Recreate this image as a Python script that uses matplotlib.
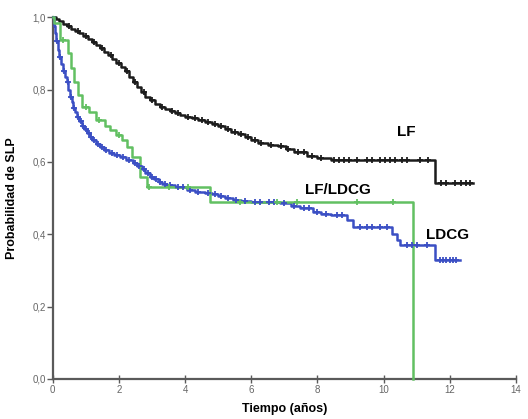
import numpy as np
import matplotlib
matplotlib.use("Agg")
import matplotlib.pyplot as plt

plt.rcParams["font.family"] = ["Liberation Sans", "DejaVu Sans"]

# Kaplan-Meier curves: event times, survival after each step, last follow-up
lf_t = [0, 0.1, 0.2, 0.3, 0.42, 0.55, 0.68, 0.8, 0.92, 1.05, 1.18, 1.3, 1.42, 1.55, 1.68,
        1.8, 1.92, 2.05, 2.18, 2.3, 2.42, 2.55, 2.68, 2.8, 2.95, 3.1, 3.25, 3.4, 3.55, 3.7,
        3.85, 4.0, 4.2, 4.4, 4.6, 4.8, 5.0, 5.2, 5.4, 5.6, 5.8, 6.0, 6.2, 6.5, 6.8, 7.05,
        7.3, 7.7, 8.0, 8.4, 11.55]
lf_p = [1.0, 0.995, 0.99, 0.982, 0.975, 0.968, 0.962, 0.955, 0.948, 0.94, 0.932, 0.924,
        0.915, 0.905, 0.895, 0.884, 0.873, 0.862, 0.85, 0.836, 0.822, 0.806, 0.792, 0.78,
        0.77, 0.76, 0.752, 0.745, 0.74, 0.735, 0.73, 0.725, 0.72, 0.715, 0.71, 0.704,
        0.698, 0.692, 0.684, 0.676, 0.668, 0.66, 0.652, 0.648, 0.643, 0.636, 0.627, 0.616,
        0.61, 0.605, 0.541]
lf_end = 12.7
lf_cens = [0.5, 0.75, 1.0, 1.25, 1.5, 1.75, 2.0, 2.25, 2.5, 2.75, 3.0, 3.3, 3.6, 3.8,
           4.1, 4.3, 4.5, 4.7, 4.9, 5.1, 5.3, 5.5, 5.7, 5.9, 6.1, 6.3, 6.6, 6.9, 7.1,
           7.4, 7.6, 7.85, 8.1, 8.5, 8.65, 8.8, 8.95, 9.2, 9.5, 9.65, 9.9, 10.05, 10.2,
           10.35, 10.55, 10.7, 11.1, 11.35, 11.75, 11.9, 12.15, 12.35, 12.5, 12.6]

mix_t = [0, 0.05, 0.21, 0.45, 0.55, 0.65, 0.75, 0.88, 1.1, 1.32, 1.57, 1.72, 1.92, 2.1,
         2.25, 2.39, 2.63, 2.84, 4.75, 10.88]
mix_p = [1.0, 0.983, 0.937, 0.90, 0.86, 0.82, 0.785, 0.752, 0.738, 0.715, 0.70, 0.688,
         0.675, 0.66, 0.64, 0.613, 0.558, 0.53, 0.49, 0.0]
mix_end = 10.88
mix_cens = [0.3, 1.0, 1.4, 2.0, 2.9, 3.5, 4.1, 5.65, 6.77, 7.38, 9.19, 10.28]

ldcg_t = [0, 0.03, 0.06, 0.1, 0.15, 0.2, 0.25, 0.3, 0.36, 0.42, 0.47, 0.51, 0.57, 0.62,
          0.68, 0.73, 0.8, 0.88, 0.95, 1.03, 1.12, 1.2, 1.3, 1.42, 1.55, 1.7, 1.85, 2.03,
          2.2, 2.42, 2.55, 2.7, 2.8, 2.93, 3.05, 3.2, 3.3, 3.45, 3.7, 4.05, 4.3, 4.6, 4.8,
          5.0, 5.2, 5.44, 5.7, 6.0, 6.4, 6.86, 7.2, 7.47, 7.87, 8.1, 8.4, 8.89, 9.07,
          10.25, 10.4, 10.5, 11.55]
ldcg_p = [1.0, 0.975, 0.955, 0.935, 0.91, 0.89, 0.87, 0.85, 0.835, 0.82, 0.80, 0.78,
          0.765, 0.75, 0.737, 0.725, 0.712, 0.70, 0.69, 0.68, 0.67, 0.66, 0.65, 0.64,
          0.632, 0.625, 0.619, 0.613, 0.605, 0.596, 0.588, 0.58, 0.57, 0.558, 0.552,
          0.545, 0.54, 0.536, 0.53, 0.522, 0.518, 0.515, 0.51, 0.505, 0.5, 0.494, 0.492,
          0.49, 0.488, 0.486, 0.479, 0.472, 0.461, 0.457, 0.453, 0.439, 0.42, 0.40,
          0.385, 0.37, 0.329]
ldcg_end = 12.3
ldcg_cens = [0.13, 0.22, 0.33, 0.45, 0.54, 0.65, 0.76, 0.84, 0.92, 1.0, 1.08, 1.16,
             1.25, 1.36, 1.48, 1.62, 1.78, 1.95, 2.12, 2.3, 2.48, 2.62, 2.75, 2.87, 3.0,
             3.12, 3.25, 3.38, 3.55, 3.8, 3.95, 4.15, 4.4, 4.7, 4.9, 5.1, 5.3, 5.55, 5.8,
             6.1, 6.25, 6.55, 6.7, 7.0, 7.3, 7.6, 7.75, 8.0, 8.25, 8.6, 8.75, 9.3, 9.5,
             9.65, 9.9, 10.1, 10.7, 10.85, 11.0, 11.3, 11.7, 11.8, 11.9, 12.0, 12.1, 12.2]

y_ticks = [0.0, 0.2, 0.4, 0.6, 0.8, 1.0]
x_ticks = [0, 2, 4, 6, 8, 10, 12, 14]


def km(ax, t, p, end, cens, color):
    xs = list(t) + [end]
    ys = list(p) + [p[-1]]
    ax.step(xs, ys, where="post", color=color, lw=1.8, clip_on=False, zorder=3)
    idx = np.searchsorted(t, cens, side="right") - 1
    cy = np.array(p)[idx]
    ax.plot(cens, cy, ls="none", marker="+", ms=4, mew=1.3, color=color,
            clip_on=False, zorder=4)


fig = plt.figure(figsize=(5.28, 4.19), dpi=100)
ax = fig.add_axes([0.100, 0.0955, 0.877, 0.8635])

km(ax, lf_t, lf_p, lf_end, lf_cens, "#1c1c1c")
km(ax, ldcg_t, ldcg_p, ldcg_end, ldcg_cens, "#3b4fc4")
km(ax, mix_t, mix_p, mix_end, mix_cens, "#62c062")

ax.set_xlim(0, 14)
ax.set_ylim(0, 1.0)
for s in ("top", "right"):
    ax.spines[s].set_visible(False)
for s in ("left", "bottom"):
    ax.spines[s].set_color("#5a5a5a")
    ax.spines[s].set_linewidth(1.6)

ax.set_yticks(y_ticks)
ax.set_yticklabels([f"{v:.1f}".replace(".", ",") for v in y_ticks])
ax.set_xticks(x_ticks)
ax.set_xticklabels([str(v) for v in x_ticks])
ax.tick_params(axis="y", direction="out", length=4, width=1, color="#5a5a5a",
               labelsize=7, labelcolor="#666666", pad=1)
ax.tick_params(axis="x", direction="inout", length=6, width=1, color="#5a5a5a",
               labelsize=7, labelcolor="#666666", pad=1)

ax.set_ylabel("Probabilidad de SLP", fontsize=9, fontweight="bold", labelpad=10)
ax.set_xlabel("Tiempo (años)", fontsize=9, fontweight="bold", labelpad=6)

ax.text(10.7, 0.682, "LF", fontsize=11, fontweight="bold", ha="center", va="center")
ax.text(8.62, 0.522, "LF/LDCG", fontsize=11, fontweight="bold", ha="center", va="center")
ax.text(11.95, 0.398, "LDCG", fontsize=11, fontweight="bold", ha="center", va="center")

fig.savefig("out.png", dpi=100)
